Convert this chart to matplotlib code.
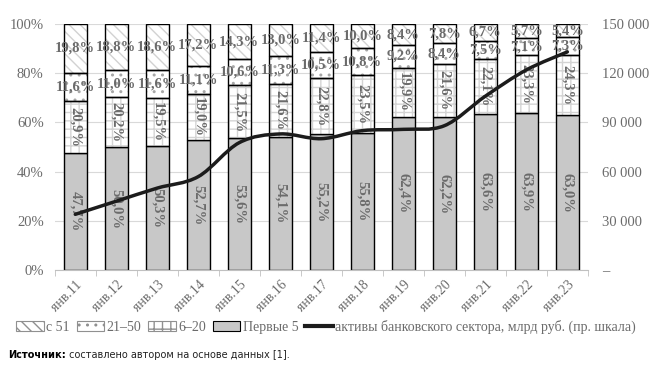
import matplotlib
matplotlib.use("Agg")
from matplotlib import pyplot as plt
from matplotlib.path import Path
from matplotlib.patches import PathPatch
from matplotlib.lines import Line2D
import numpy as np

# categories (January of each year)
years = ["янв.11", "янв.12", "янв.13", "янв.14", "янв.15", "янв.16", "янв.17",
         "янв.18", "янв.19", "янв.20", "янв.21", "янв.22", "янв.23"]

# shares of assets, %
top5 = [47.7, 50.0, 50.3, 52.7, 53.6, 54.1, 55.2, 55.8, 62.4, 62.2, 63.6, 63.9, 63.0]
g6_20 = [20.9, 20.2, 19.5, 19.0, 21.5, 21.6, 22.8, 23.5, 19.9, 21.6, 22.1, 23.3, 24.3]
g21_50 = [11.6, 11.0, 11.6, 11.1, 10.6, 11.3, 10.5, 10.8, 9.2, 8.4, 7.5, 7.1, 7.3]
from51 = [19.8, 18.8, 18.6, 17.2, 14.3, 13.0, 11.4, 10.0, 8.4, 7.8, 6.7, 5.7, 5.4]

# banking sector assets, bn rub (right scale)
assets = [34000, 42000, 50000, 57000, 77700, 83000, 80100, 85000, 85800, 88000,
          106000, 122000, 133000]

GRAY_TXT = "#6b6b6b"
plt.rcParams["font.family"] = ["Liberation Serif", "DejaVu Serif"]
plt.rcParams["hatch.linewidth"] = 1.0

fig = plt.figure(figsize=(6.68, 3.87), dpi=100)
ax = fig.add_axes([0.082, 0.302, 0.798, 0.636])

x = np.arange(len(years))
w = 0.55
b1 = np.array(top5)
b2 = b1 + np.array(g6_20)
b3 = b2 + np.array(g21_50)

ax.bar(x, top5, w, color="#c8c8c8", edgecolor="black", lw=1, zorder=2)
ax.bar(x, g6_20, w, bottom=b1, color="white", edgecolor="#d4d4d4", hatch="++", lw=0, zorder=2)
ax.bar(x, g21_50, w, bottom=b2, color="white", edgecolor="#a8a8a8", hatch="..", lw=0, zorder=2)
ax.bar(x, from51, w, bottom=b3, color="white", edgecolor="#d2d2d2", hatch="\\\\\\", lw=0, zorder=2)
# black outlines over hatched segments
ax.bar(x, g6_20, w, bottom=b1, fill=False, edgecolor="black", lw=1, zorder=3)
ax.bar(x, g21_50, w, bottom=b2, fill=False, edgecolor="black", lw=1, zorder=3)
ax.bar(x, from51, w, bottom=b3, fill=False, edgecolor="black", lw=1, zorder=3)

def fmt(v):
    return f"{v:.1f}%".replace(".", ",")

lab = dict(color=GRAY_TXT, fontsize=10.5, fontweight="bold", ha="center", va="center", zorder=5)
for i in range(len(years)):
    ax.text(x[i], top5[i] / 2, fmt(top5[i]), rotation=270, **lab)
    ax.text(x[i], b1[i] + g6_20[i] / 2, fmt(g6_20[i]), rotation=270, **lab)
    ax.text(x[i], b2[i] + g21_50[i] / 2, fmt(g21_50[i]), **lab)
    ax.text(x[i], b3[i] + from51[i] / 2, fmt(from51[i]), **lab)

ax.set_xlim(-0.5, len(years) - 0.5)
ax.set_ylim(0, 100)
ax.set_yticks(range(0, 101, 20))
ax.set_yticklabels([f"{v}%" for v in range(0, 101, 20)])
ax.set_xticks(x)
ax.set_xticklabels(years, rotation=45, ha="right", rotation_mode="anchor",
                   fontsize=10, color=GRAY_TXT)
ax.set_xticks(np.arange(-0.5, len(years)), minor=True)
ax.tick_params(axis="x", which="major", length=0, pad=6)
ax.tick_params(axis="x", which="minor", length=4, color="#c0c0c0")
ax.tick_params(axis="y", length=0, labelsize=10.5, labelcolor=GRAY_TXT, pad=8)
ax.grid(axis="y", color="#d9d9d9", lw=0.8, zorder=0)
ax.set_axisbelow(True)
for s in ["top", "left", "right"]:
    ax.spines[s].set_visible(False)
ax.spines["bottom"].set_color("#c0c0c0")

ax2 = ax.twinx()
ax2.set_ylim(0, 150000)
ax2.set_yticks(range(0, 150001, 30000))
ax2.set_yticklabels(["–"] + [f"{v:,}".replace(",", " ") for v in range(30000, 150001, 30000)])
ax2.tick_params(axis="y", length=0, labelsize=10.5, labelcolor=GRAY_TXT, pad=10)
for s in ax2.spines.values():
    s.set_visible(False)

# smoothed line (Excel-like cubic Bezier between data points)
pts = np.column_stack([x, assets]).astype(float)
verts = [pts[0]]
codes = [Path.MOVETO]
n = len(pts)
for i in range(n - 1):
    p0 = pts[i - 1] if i > 0 else pts[i]
    p1 = pts[i]
    p2 = pts[i + 1]
    p3 = pts[i + 2] if i + 2 < n else pts[i + 1]
    c1 = p1 + (p2 - p0) / 6
    c2 = p2 - (p3 - p1) / 6
    verts += [c1, c2, p2]
    codes += [Path.CURVE4] * 3
ax2.add_patch(PathPatch(Path(verts, codes), fill=False, edgecolor="#1c1c1c", lw=2.5,
                        capstyle="round", zorder=4))

handles = [
    plt.Rectangle((0, 0), 1, 1, facecolor="white", edgecolor="#909090", hatch="\\\\\\", lw=0.8),
    plt.Rectangle((0, 0), 1, 1, facecolor="white", edgecolor="#909090", hatch="..", lw=0.8),
    plt.Rectangle((0, 0), 1, 1, facecolor="white", edgecolor="#909090", hatch="++", lw=0.8),
    plt.Rectangle((0, 0), 1, 1, facecolor="#c8c8c8", edgecolor="black", lw=0.8),
    Line2D([0], [0], color="#1c1c1c", lw=3),
]
labels = ["с 51", "21–50", "6–20", "Первые 5",
          "активы банковского сектора, млрд руб. (пр. шкала)"]
leg = fig.legend(handles, labels, loc="center", bbox_to_anchor=(0.488, 0.155), ncol=5,
                 frameon=False, fontsize=10, handlelength=2.0, handleheight=0.7,
                 handletextpad=0.15, columnspacing=0.5, borderaxespad=0)
for t in leg.get_texts():
    t.set_color(GRAY_TXT)

src = fig.text(0.012, 0.083, "Источник:", fontsize=7, fontweight="bold",
               family="DejaVu Sans", va="center")
rest = fig.text(0.1, 0.083, " составлено автором на основе данных [1].", fontsize=7,
                family="DejaVu Sans", va="center", color="#222222")
fig.canvas.draw()
bb = src.get_window_extent().transformed(fig.transFigure.inverted())
rest.set_position((bb.x1, 0.083))

fig.savefig("out.png", dpi=100)
